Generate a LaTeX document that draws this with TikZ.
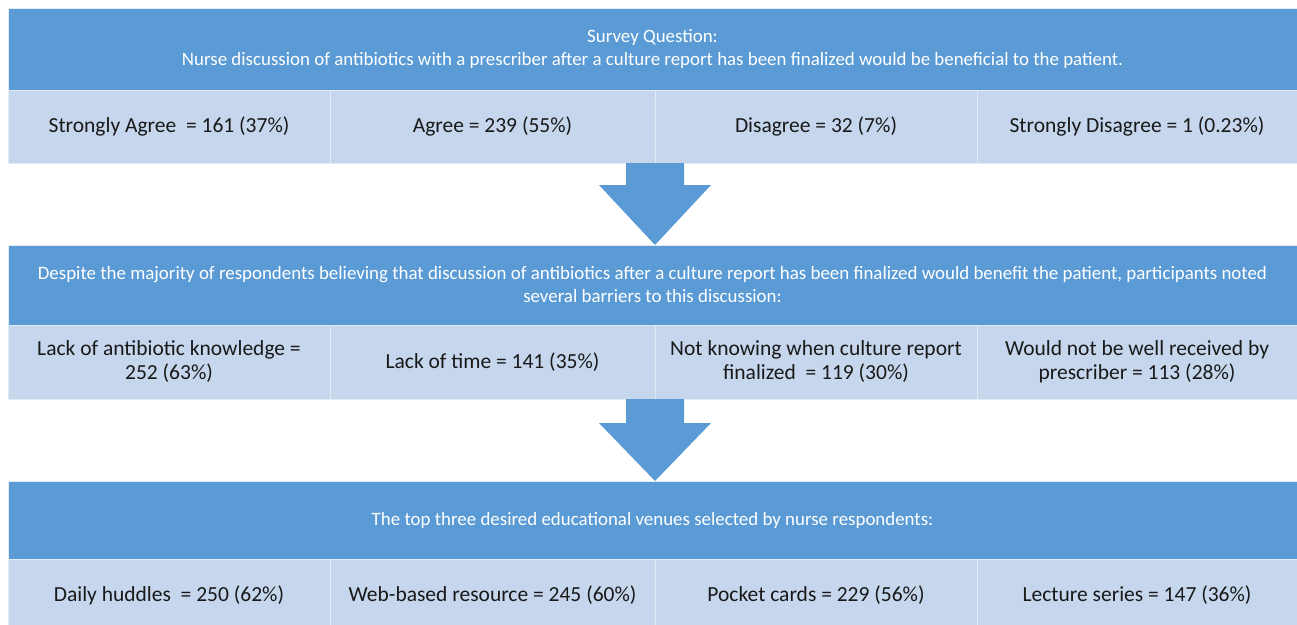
\documentclass[tikz,border=0pt]{standalone}
\usepackage{fontspec}
\setmainfont{Carlito}
\usetikzlibrary{calc,positioning}
\definecolor{myblue}{rgb}{0.357,0.608,0.835}
\definecolor{mylightblue}{rgb}{0.776,0.839,0.925}
\definecolor{myline}{rgb}{0.88,0.92,0.96}

\begin{document}
\begin{tikzpicture}[x=1pt, y=-1pt,
	header/.style={fill=myblue, draw=myline, line width=1pt, text=white, minimum width=1289pt, inner sep=0pt, outer sep=0pt, align=center, font=\fontsize{18.9}{23}\selectfont},
	cell/.style={fill=mylightblue, draw=myline, line width=1pt, minimum width=322pt, minimum height=73pt, inner sep=0pt, outer sep=0pt, align=center, font=\fontsize{21.5}{24}\selectfont, text=black!90},
	widecell/.style={cell, minimum width=325pt},
	lastcell/.style={cell, minimum width=320pt}]
			\useasboundingbox (0,0) rectangle (1297,624);
			\clip (0,0) rectangle (1297,624);

			% First block: the survey question and the answers
			\node[header, minimum height=82pt, anchor=north west] (h1) at (8,8) {Survey Question:\\Nurse discussion of antibiotics with a prescriber after a culture report has been finalized would be beneficial to the patient.};
			\node[cell, below right=0pt and 0pt of h1.south west] (a1) {Strongly Agree\ \ = 161 (37\%)};
			\node[widecell, right=0pt of a1] (a2) {Agree = 239 (55\%)};
			\node[cell, right=0pt of a2] (a3) {Disagree = 32 (7\%)};
			\node[lastcell, right=0pt of a3] (a4) {Strongly Disagree = 1 (0.23\%)};

			% Second block: the barriers
			\node[header, minimum height=80pt, below right=82pt and 0pt of a1.south west] (h2) {Despite the majority of respondents believing that discussion of antibiotics after a culture report has been finalized would benefit the patient, participants noted\\several barriers to this discussion:};
			\node[cell, minimum height=74pt, below right=0pt and 0pt of h2.south west] (b1) {Lack of antibiotic knowledge =\\252 (63\%)};
			\node[widecell, minimum height=74pt, right=0pt of b1] (b2) {Lack of time = 141 (35\%)};
			\node[cell, minimum height=74pt, right=0pt of b2] (b3) {Not knowing when culture report\\finalized\ \ = 119 (30\%)};
			\node[lastcell, minimum height=74pt, right=0pt of b3] (b4) {Would not be well received by\\prescriber = 113 (28\%)};

			% Third block: the educational venues
			\node[header, minimum height=78pt, below right=82pt and 0pt of b1.south west] (h3) {The top three desired educational venues selected by nurse respondents:};
			\node[cell, below right=0pt and 0pt of h3.south west] (c1) {Daily huddles\ \ = 250 (62\%)};
			\node[widecell, right=0pt of c1] (c2) {Web-based resource = 245 (60\%)};
			\node[cell, right=0pt of c2] (c3) {Pocket cards = 229 (56\%)};
			\node[lastcell, right=0pt of c3] (c4) {Lecture series = 147 (36\%)};

			% Draw the block arrows between the blocks
			\fill[myblue] let \p1=(a2.south east), \p2=(h2.north) in (\x1-29pt,\y1) -- (\x1+29pt,\y1) -- (\x1+29pt,\y2+60pt) -- (\x1+56pt,\y2+60pt) -- (\x1,\y2) -- (\x1-56pt,\y2+60pt) -- (\x1-29pt,\y2+60pt) -- cycle;
			\fill[myblue] let \p1=(b2.south east), \p2=(h3.north) in (\x1-29pt,\y1) -- (\x1+29pt,\y1) -- (\x1+29pt,\y2+58pt) -- (\x1+56pt,\y2+58pt) -- (\x1,\y2) -- (\x1-56pt,\y2+58pt) -- (\x1-29pt,\y2+58pt) -- cycle;
		\end{tikzpicture}
\end{document}
